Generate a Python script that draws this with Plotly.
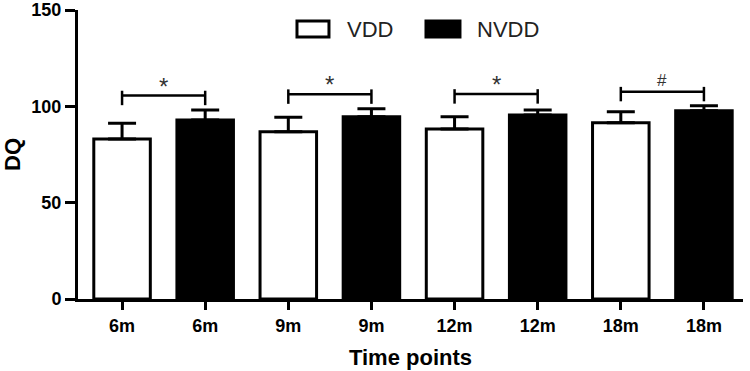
import plotly.graph_objects as go

# ---- data ----
tick_labels = ["6m", "6m", "9m", "9m", "12m", "12m", "18m", "18m"]
vdd_pos = [0, 2, 4, 6]
nvdd_pos = [1, 3, 5, 7]
vdd_mean = [83.0, 86.8, 88.2, 91.5]
vdd_err = [8.2, 7.5, 6.4, 5.7]
nvdd_mean = [92.9, 94.6, 95.5, 97.7]
nvdd_err = [5.2, 4.2, 2.6, 2.6]
bracket_y = [105.6, 106.3, 106.4, 107.6]
bracket_sym = ["*", "*", "*", "#"]

FONT = "Liberation Sans, Arial, sans-serif"

fig = go.Figure()
fig.add_trace(go.Bar(
    x=vdd_pos, y=vdd_mean, width=0.68, name="VDD",
    marker=dict(color="white", line=dict(color="black", width=3)),
    error_y=dict(type="data", array=vdd_err, arrayminus=[0]*4, symmetric=False,
                 color="black", thickness=3, width=14),
    showlegend=False,
))
fig.add_trace(go.Bar(
    x=nvdd_pos, y=nvdd_mean, width=0.68, name="NVDD",
    marker=dict(color="black", line=dict(color="black", width=3)),
    error_y=dict(type="data", array=nvdd_err, arrayminus=[0]*4, symmetric=False,
                 color="black", thickness=3, width=14),
    showlegend=False,
))

# significance brackets
for a, b, yb, s in zip(vdd_pos, nvdd_pos, bracket_y, bracket_sym):
    fig.add_trace(go.Scatter(
        x=[a, a, None, a, b, None, b, b],
        y=[yb + 2.5, yb - 5, None, yb, yb, None, yb + 2.5, yb - 5],
        mode="lines", line=dict(color="black", width=2.5),
        showlegend=False, hoverinfo="skip",
    ))
    fig.add_annotation(x=(a + b) / 2, y=yb, text=s, showarrow=False,
                       yanchor="bottom", yshift=(-6 if s == "*" else 0),
                       font=dict(family=FONT, size=24 if s == "*" else 17, color="#333"))

# manual legend
leg = [("VDD", "white", 0.3293, 0.3774, 0.4015), ("NVDD", "black", 0.5233, 0.5744, 0.597)]
for name, fill, x0, x1, xt in leg:
    fig.add_shape(type="rect", xref="paper", yref="paper", x0=x0, x1=x1, y0=0.907, y1=0.962,
                  fillcolor=fill, line=dict(color="black", width=3))
    fig.add_annotation(xref="paper", yref="paper", x=xt, y=0.934, text=name, showarrow=False,
                       xanchor="left", yanchor="middle",
                       font=dict(family=FONT, size=22, color="#222"))

fig.update_layout(
    width=750, height=371,
    margin=dict(l=78, r=7, t=10, b=72),
    plot_bgcolor="white", paper_bgcolor="white",
    barmode="overlay",
    font=dict(family=FONT, color="black"),
    xaxis=dict(
        range=[-0.53, 7.47], tickmode="array", tickvals=list(range(8)), ticktext=tick_labels,
        showline=True, linecolor="black", linewidth=3, ticks="outside", ticklen=8, tickwidth=2.5,
        tickcolor="black", showgrid=False, zeroline=False, automargin=False,
        tickfont=dict(family=FONT, size=18, color="black", weight="bold"),
        title=dict(text="<b>Time points</b>", font=dict(family=FONT, size=22, color="black"), standoff=16),
    ),
    yaxis=dict(
        range=[0, 150], tickvals=[0, 50, 100, 150],
        showline=True, linecolor="black", linewidth=3, ticks="outside", ticklen=10, tickwidth=2.5,
        tickcolor="black", showgrid=False, zeroline=False, automargin=False,
        tickfont=dict(family=FONT, size=18, color="black", weight="bold"),
        title=dict(text="<b>DQ</b>", font=dict(family=FONT, size=22, color="black"), standoff=16),
    ),
)

fig.write_html("out.html", config={"displayModeBar": False},
               post_script="document.body.style.margin='0';document.body.style.overflow='hidden';")
